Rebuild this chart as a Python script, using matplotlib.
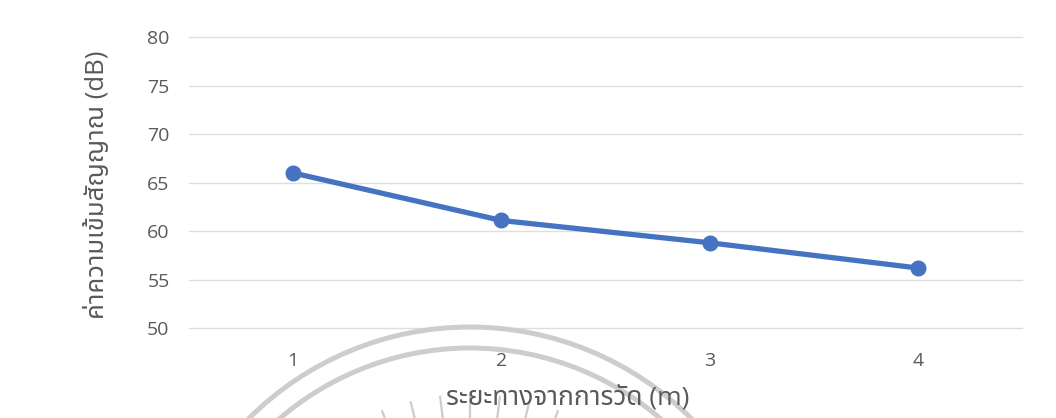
import numpy as np
import matplotlib
matplotlib.use("Agg")
import matplotlib.pyplot as plt
from matplotlib.patches import Arc
from matplotlib.lines import Line2D

# Distance from the measuring point and the signal strength read there
distance_labels = ["1", "2", "3", "4"]
signal_db = [66.0, 61.1, 58.8, 56.2]
y_ticks = [50, 55, 60, 65, 70, 75, 80]

plt.rcParams["font.family"] = ["Open Sans", "Noto Sans Thai", "Loma", "Garuda",
                               "DejaVu Sans", "Noto Sans"]

W, H = 1056, 418
fig = plt.figure(figsize=(W / 100, H / 100), dpi=100)

# faint seal stamped behind the chart (figure pixel coordinates, y down)
def px(x, y):
    return x / W, 1 - y / H

seal_c = (470, 640)
stamp = "#cdcdcd"
for r in (313, 292):
    arc = Arc(px(*seal_c), 2 * r / W, 2 * r / H, theta1=0, theta2=180,
              transform=fig.transFigure, color=stamp, lw=3.6, zorder=0)
    fig.patches.append(arc)
for ang in np.arange(55, 126, 7):
    a = np.deg2rad(ang)
    r0, r1 = 222, 245
    xs = [seal_c[0] + r0 * np.cos(a), seal_c[0] + r1 * np.cos(a)]
    ys = [seal_c[1] - r0 * np.sin(a), seal_c[1] - r1 * np.sin(a)]
    p = [px(xx, yy) for xx, yy in zip(xs, ys)]
    fig.lines.append(Line2D([p[0][0], p[1][0]], [p[0][1], p[1][1]],
                            transform=fig.transFigure, color=stamp, lw=1.6, zorder=0))

ax = fig.add_axes([0.179, 0.215, 0.789, 0.696])
ax.patch.set_alpha(0)

x = list(range(len(distance_labels)))
ax.plot(x, signal_db, color="#4672c2", lw=3.8, marker="o", ms=10.5,
        solid_capstyle="round", zorder=3)

ax.set_xlim(-0.5, len(distance_labels) - 0.5)
ax.set_ylim(50, 80)
ax.set_yticks(y_ticks)
ax.set_xticks(x)
ax.set_xticklabels(distance_labels)
ax.grid(axis="y", color="#dedede", lw=1)
for gl in ax.get_ygridlines():
    gl.set_clip_on(False)
ax.set_axisbelow(True)
for s in ax.spines.values():
    s.set_visible(False)
ax.tick_params(axis="both", length=0, labelsize=14, labelcolor="#595959")
ax.tick_params(axis="x", pad=17)
ax.tick_params(axis="y", pad=14)

fig.text(568 / W, 1 - 398 / H, "ระยะทางจากการวัด (m)", fontsize=19,
         color="#595959", ha="center", va="center")
fig.text(97 / W, 1 - 185 / H, "ค่าความเข้มสัญญาณ (dB)", fontsize=18.5,
         color="#595959", ha="center", va="center", rotation=90)

fig.savefig("out.png", dpi=100)
